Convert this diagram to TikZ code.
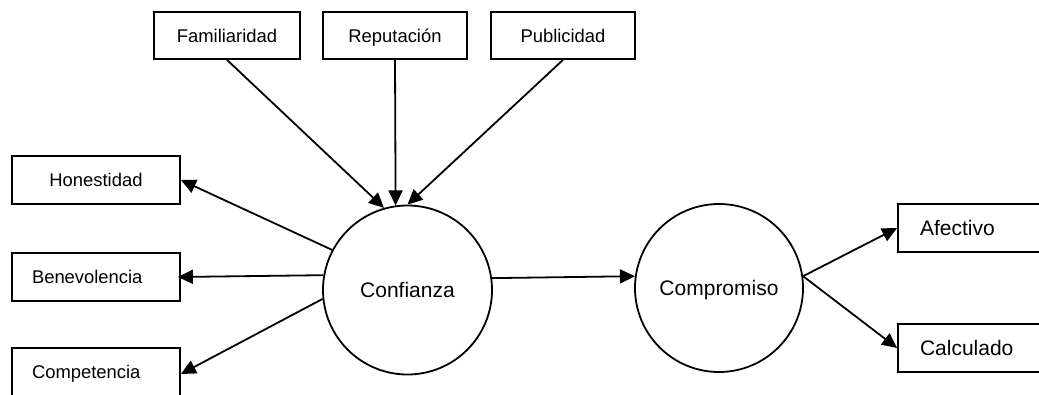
\documentclass[tikz,border=0pt]{standalone}
\usepackage{fontspec}
\setmainfont{Liberation Sans}
\usetikzlibrary{arrows.meta}
\begin{document}
\begin{tikzpicture}[x=1pt,y=-1pt,
  txt/.style={font=\fontsize{18.4}{22}\selectfont,text height=15pt,text depth=1.8pt},
  bigtxt/.style={font=\fontsize{21}{25}\selectfont,text height=17pt,text depth=2pt},
  box/.style={txt,draw,line width=1.8pt,inner sep=0pt,minimum height=47pt},
  lbox/.style={box,text width=128pt,inner xsep=20pt,align=left},
  rbox/.style={draw,line width=1.8pt,inner sep=0pt,bigtxt,text width=124pt,inner xsep=22pt,align=left,minimum height=48pt},
  circ/.style={bigtxt,draw,circle,line width=1.8pt,inner sep=0pt},
  arr/.style={line width=1.8pt,-{Triangle[length=15pt,width=14pt]}}]
\useasboundingbox (0,0) rectangle (1039,394);
\clip (0,0) rectangle (1039,394);
% top boxes
\node[box,minimum width=146pt] (fam) at (227,35.5) {Familiaridad};
\node[box,minimum width=144pt] (rep) at (395,35.5) {Reputación};
\node[box,minimum width=144pt] (pub) at (563,35.5) {Publicidad};
% left boxes
\node[box,minimum width=168pt,minimum height=48pt] (hon) at (96,180) {Honestidad};
\node[lbox,minimum height=48pt] (ben) at (96,277) {Benevolencia};
\node[lbox,minimum height=48pt] (cmp) at (96,372) {Competencia};
% right boxes
\node[rbox] (afe) at (982,228) {Afectivo};
\node[rbox] (cal) at (982,348) {Calculado};
% circles
\node[circ,minimum size=169pt] (conf) at (407.5,290) {Confianza};
\node[circ,minimum size=168pt] (compr) at (719,288) {Compromiso};
% arrows
\draw[arr] (fam.south) -- (conf.106);
\draw[arr] (rep.south) -- (conf.98);
\draw[arr] (pub.south) -- (conf.90);
\draw[arr] (conf.152.7) -- (hon.east);
\draw[arr] (conf.170.5) -- ([xshift=-3pt]ben.east);
\draw[arr] (conf.186.8) -- ([yshift=-2pt]cmp.east);
\draw[arr] (conf.8.8) -- (compr.172.5);
\draw[arr] (compr.8) -- (afe.west);
\draw[arr] (compr.8) -- (cal.west);
\end{tikzpicture}
\end{document}
